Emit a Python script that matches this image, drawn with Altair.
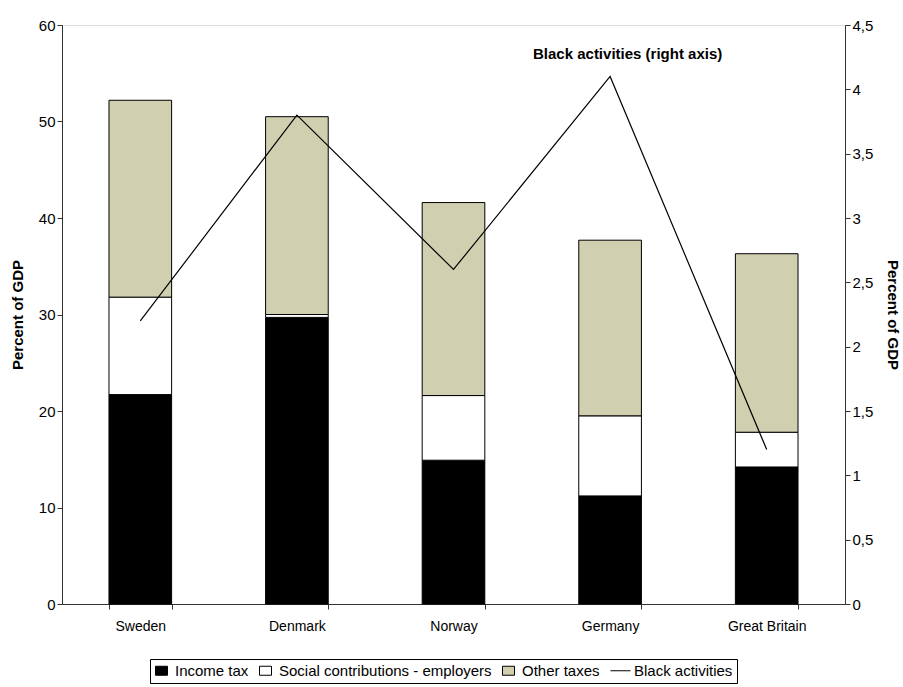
import altair as alt
import pandas as pd

# Tax structure (percent of GDP) and size of the black economy, by country
countries = ["Sweden", "Denmark", "Norway", "Germany", "Great Britain"]
income_tax = [21.7, 29.7, 14.9, 11.2, 14.2]
social_contrib = [10.1, 0.3, 6.7, 8.3, 3.6]
other_taxes = [20.4, 20.5, 20.0, 18.2, 18.5]
black_activities = [2.2, 3.8, 2.6, 4.1, 1.2]

series_names = ["Income tax", "Social contributions - employers", "Other taxes", "Black activities"]
series_colors = ["#000000", "#ffffff", "#d0cfb0", "#000000"]
series_strokes = ["#000000", "#000000", "#000000", "#000000"]
# legend swatches: small rectangles for the tax components, a short line for the line series
swatch = "M-1.2,-0.9H1.2V0.9H-1.2Z"
series_shapes = [swatch, swatch, swatch, "M-2,0H2"]

left_ticks = [0, 10, 20, 30, 40, 50, 60]
right_ticks = [0, 0.5, 1, 1.5, 2, 2.5, 3, 3.5, 4, 4.5]

rows = []
for i, c in enumerate(countries):
    for k, vals in enumerate([income_tax, social_contrib, other_taxes]):
        rows.append({"country": c, "series": series_names[k], "value": vals[i], "stack": k})
bars_df = pd.DataFrame(rows)
line_df = pd.DataFrame({"country": countries, "value": black_activities,
                        "series": ["Black activities"] * len(countries)})
keys_df = pd.DataFrame({"series": series_names})

FONT = "Liberation Sans"

legend = alt.Legend(
    title=None, orient="none", direction="horizontal",
    legendX=88, legendY=634,
    symbolSize=100, symbolStrokeColor="black", symbolStrokeWidth=1, symbolOpacity=1,
    labelFont=FONT, labelFontSize=15, labelColor="black", labelOffset=6, labelLimit=400,
    columnPadding=8, strokeColor="black", padding=4,
)
fill_scale = alt.Scale(domain=series_names, range=series_colors)
stroke_scale = alt.Scale(domain=series_names, range=series_strokes)
shape_scale = alt.Scale(domain=series_names, range=series_shapes)

x_enc = alt.X(
    "country:N", sort=countries, title=None,
    scale=alt.Scale(paddingInner=0.6, paddingOuter=0.3),
    axis=alt.Axis(labelAngle=0, tickBand="extent", tickSize=5, labelPadding=10,
                  labelFont=FONT, labelFontSize=14, labelColor="black",
                  domainColor="#333333", tickColor="#333333"),
)

bars = alt.Chart(bars_df).mark_bar(strokeWidth=1, opacity=1).encode(
    x=x_enc,
    y=alt.Y("value:Q", stack="zero",
            scale=alt.Scale(domain=[0, 60], nice=False),
            axis=alt.Axis(title="Percent of GDP", values=left_ticks, grid=False,
                          tickSize=5, labelFont=FONT, labelFontSize=15, labelColor="black",
                          titleFont=FONT, titleFontSize=15, titleFontWeight="bold",
                          titleColor="black", titlePadding=13,
                          domainColor="#333333", tickColor="#333333")),
    fill=alt.Fill("series:N", scale=fill_scale, legend=legend),
    stroke=alt.Stroke("series:N", scale=stroke_scale, legend=legend),
    order=alt.Order("stack:Q", sort="ascending"),
)

line = alt.Chart(line_df).mark_line(strokeWidth=1.2).encode(
    x=alt.X("country:N", sort=countries),
    y=alt.Y("value:Q",
            scale=alt.Scale(domain=[0, 4.5], nice=False),
            axis=alt.Axis(orient="right", title="Percent of GDP", values=right_ticks, grid=False,
                          labelExpr="replace(format(datum.value, ''), '.', ',')",
                          tickSize=5, labelFont=FONT, labelFontSize=15, labelColor="black",
                          titleFont=FONT, titleFontSize=15, titleFontWeight="bold",
                          titleColor="black", titlePadding=12,
                          domainColor="#333333", tickColor="#333333")),
    stroke=alt.Stroke("series:N", scale=stroke_scale, legend=legend),
)

# zero-size points that only supply the legend swatch shapes
keys = alt.Chart(keys_df).mark_point(filled=True, size=0, opacity=0, strokeWidth=1).encode(
    x=alt.value(0), y=alt.value(0),
    fill=alt.Fill("series:N", scale=fill_scale, legend=legend),
    stroke=alt.Stroke("series:N", scale=stroke_scale, legend=legend),
    shape=alt.Shape("series:N", scale=shape_scale, legend=legend),
)

note = alt.Chart(pd.DataFrame({"t": ["Black activities (right axis)"]})).mark_text(
    font=FONT, fontSize=15, fontWeight="bold", color="black", align="left", baseline="middle"
).encode(x=alt.value(471), y=alt.value(29), text="t:N")

chart = alt.layer(keys, bars, line, note).resolve_scale(y="independent").properties(
    width=783, height=579,
    padding={"left": 62, "top": 25, "right": 58, "bottom": 83},
    autosize="none",
).configure_view(stroke="#909090").configure(background="white")

chart.save("out.html", embed_options={"renderer": "svg", "actions": False})
